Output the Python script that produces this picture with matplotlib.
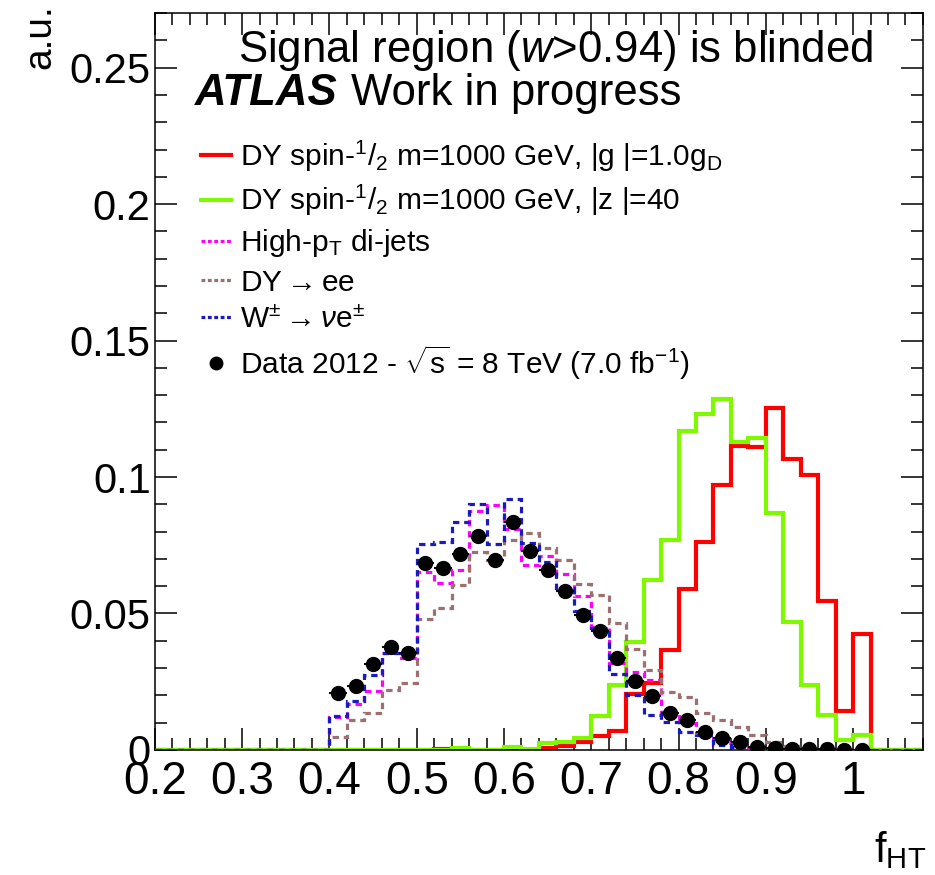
import numpy as np
import matplotlib
matplotlib.use("Agg")
import matplotlib.pyplot as plt
from matplotlib.lines import Line2D
from matplotlib.ticker import MultipleLocator, FuncFormatter

plt.rcParams["font.family"] = ["Liberation Sans", "DejaVu Sans"]
plt.rcParams["mathtext.fontset"] = "custom"
plt.rcParams["mathtext.rm"] = "Liberation Sans"
plt.rcParams["mathtext.it"] = "Liberation Sans:italic"
plt.rcParams["mathtext.bf"] = "Liberation Sans:bold"

# bin edges of f_HT (0.02 wide)
edges = np.round(np.arange(0.2, 1.0801, 0.02), 3)

# normalised distributions, one value per bin from 0.20 to 1.08
sig_g = [0, 0, 0, 0, 0, 0, 0, 0, 0, 0,
         0, 0, 0, 0, 0, 0, 0.0003, 0.0005, 0, 0,
         0.0002, 0, 0.0006, 0.0015, 0.003, 0.0051, 0.0071, 0.0205, 0.0247, 0.0368,
         0.0589, 0.0763, 0.0971, 0.1115, 0.1111, 0.1254, 0.1066, 0.1007, 0.0547, 0.0143,
         0.0424, 0, 0, 0]
sig_z = [0, 0, 0, 0, 0, 0, 0, 0, 0, 0,
         0, 0, 0, 0, 0, 0, 0, 0.0008, 0, 0,
         0.001, 0.0003, 0.0025, 0.003, 0.0044, 0.0125, 0.0238, 0.0395, 0.0621, 0.077,
         0.117, 0.1231, 0.1285, 0.1127, 0.1142, 0.0867, 0.0468, 0.0238, 0.0128, 0.0037,
         0.0055, 0, 0, 0]
dijets = [0, 0, 0, 0, 0, 0, 0, 0, 0, 0,
          0.0122, 0.017, 0.0216, 0.0354, 0.0336, 0.0653, 0.0613, 0.066, 0.0877, 0.0897,
          0.081, 0.0678, 0.071, 0.0645, 0.0564, 0.0452, 0.032, 0.0287, 0.0256, 0.014,
          0.0098, 0.0067, 0.0024, 0.0015, 0.0008, 0.0004, 0.0002, 0, 0, 0,
          0, 0, 0, 0]
dy_ee = [0, 0, 0, 0, 0, 0, 0, 0, 0, 0,
         0.0046, 0.011, 0.0137, 0.022, 0.0244, 0.048, 0.0519, 0.0604, 0.0726, 0.0696,
         0.077, 0.0794, 0.0739, 0.0696, 0.0607, 0.0568, 0.0464, 0.037, 0.0293, 0.0214,
         0.0195, 0.0134, 0.011, 0.0083, 0.0055, 0.003, 0.0015, 0.0005, 0, 0,
         0, 0, 0, 0]
w_enu = [0, 0, 0, 0, 0, 0, 0, 0, 0, 0,
         0.0125, 0.018, 0.0275, 0.0355, 0.036, 0.0753, 0.0763, 0.0835, 0.0902, 0.0753,
         0.092, 0.0757, 0.069, 0.0592, 0.051, 0.0448, 0.0278, 0.0203, 0.0128, 0.0104,
         0.0065, 0.0055, 0.0018, 0.001, 0.0005, 0, 0, 0, 0, 0,
         0, 0, 0, 0]

# data points, bin centres 0.41 ... 1.01
data_x = np.round(np.arange(0.41, 1.0101, 0.02), 3)
data_y = [0.021, 0.0234, 0.0314, 0.0378, 0.0356, 0.0684, 0.0668, 0.0717, 0.0783, 0.0697,
          0.0834, 0.0729, 0.0659, 0.0584, 0.0495, 0.0436, 0.0338, 0.0253, 0.0197, 0.0135,
          0.011, 0.0067, 0.0043, 0.0028, 0.0012, 0.0008, 0.0004, 0.0003, 0.0002, 0.0001,
          0.0001]

RED = "#ff0000"
GREEN = "#80f800"
PINK = "#ff00ff"
BROWN = "#9c7070"
BLUE = "#1a1ac0"
DOTS = (0, (2.0, 1.5))

fig = plt.figure(figsize=(9.35, 8.75), dpi=100)
ax = fig.add_axes([0.1656, 0.1429, 0.8215, 0.8422])

ax.stairs(sig_g, edges, color=RED, lw=3.0, zorder=2)
ax.stairs(sig_z, edges, color=GREEN, lw=3.0, zorder=2.1)
ax.stairs(dijets, edges, color=PINK, lw=2.3, linestyle=DOTS, zorder=3)
ax.stairs(dy_ee, edges, color=BROWN, lw=2.3, linestyle=DOTS, zorder=3.1)
ax.stairs(w_enu, edges, color=BLUE, lw=2.3, linestyle=DOTS, zorder=3.2)
ax.errorbar(data_x, data_y, xerr=0.01, fmt="o", color="black", ms=10,
            elinewidth=1.5, capsize=0, zorder=5)

ax.set_xlim(0.2, 1.08)
ax.set_ylim(0, 0.27)
ax.xaxis.set_major_locator(MultipleLocator(0.1))
ax.xaxis.set_minor_locator(MultipleLocator(0.02))
ax.yaxis.set_major_locator(MultipleLocator(0.05))
ax.yaxis.set_minor_locator(MultipleLocator(0.01))
fmt = FuncFormatter(lambda v, p: "%g" % round(v, 3))
ax.xaxis.set_major_formatter(fmt)
ax.yaxis.set_major_formatter(fmt)
ax.tick_params(which="both", direction="in", top=True, right=True, width=1.1)
ax.tick_params(which="major", length=16)
ax.tick_params(which="minor", length=8.5)
ax.tick_params(axis="y", labelsize=30, pad=3)
ax.tick_params(axis="x", labelsize=33, pad=7)
for sp in ax.spines.values():
    sp.set_linewidth(1.1)

fig.text(0.043, 0.995, "a.u.", rotation=90, ha="center", va="top", fontsize=28)
fig.text(0.99, 0.005, r"f$_{\rm HT}$", ha="right", va="bottom", fontsize=30)

ax.text(0.1086, 0.9335, r"Signal region ($w$>0.94) is blinded",
        transform=ax.transAxes, fontsize=31.5, ha="left", va="baseline")
ax.text(0.0523, 0.875, "ATLAS", transform=ax.transAxes, fontsize=31.5,
        fontweight="bold", fontstyle="italic", va="baseline")
ax.text(0.256, 0.875, "Work in progress", transform=ax.transAxes, fontsize=31.5,
        va="baseline")

handles = [
    Line2D([], [], color=RED, lw=3.0),
    Line2D([], [], color=GREEN, lw=3.0),
    Line2D([], [], color=PINK, lw=2.3, linestyle=(0, (1.2, 0.8))),
    Line2D([], [], color=BROWN, lw=2.3, linestyle=(0, (1.2, 0.8))),
    Line2D([], [], color=BLUE, lw=2.3, linestyle=(0, (1.2, 0.8))),
    Line2D([], [], color="black", marker="o", ms=9, lw=0),
]
labels = [
    r"DY spin-$^{1}/_{2}$ m=1000 GeV, |g |=1.0g$_{\rm D}$",
    r"DY spin-$^{1}/_{2}$ m=1000 GeV, |z |=40",
    r"High-p$_{\rm T}$ di-jets",
    r"DY$\rightarrow$ee",
    r"W$^{\pm}\rightarrow\nu$e$^{\pm}$",
    r"Data 2012 - $\sqrt{\rm s}$ = 8 TeV (7.0 fb$^{-1}$)",
]
ax.legend(handles, labels, loc="upper left", bbox_to_anchor=(0.045, 0.846),
          frameon=False, fontsize=21.5, handlelength=1.0, handletextpad=0.3,
          labelspacing=0.31, borderaxespad=0)

fig.savefig("out.png", dpi=100)
